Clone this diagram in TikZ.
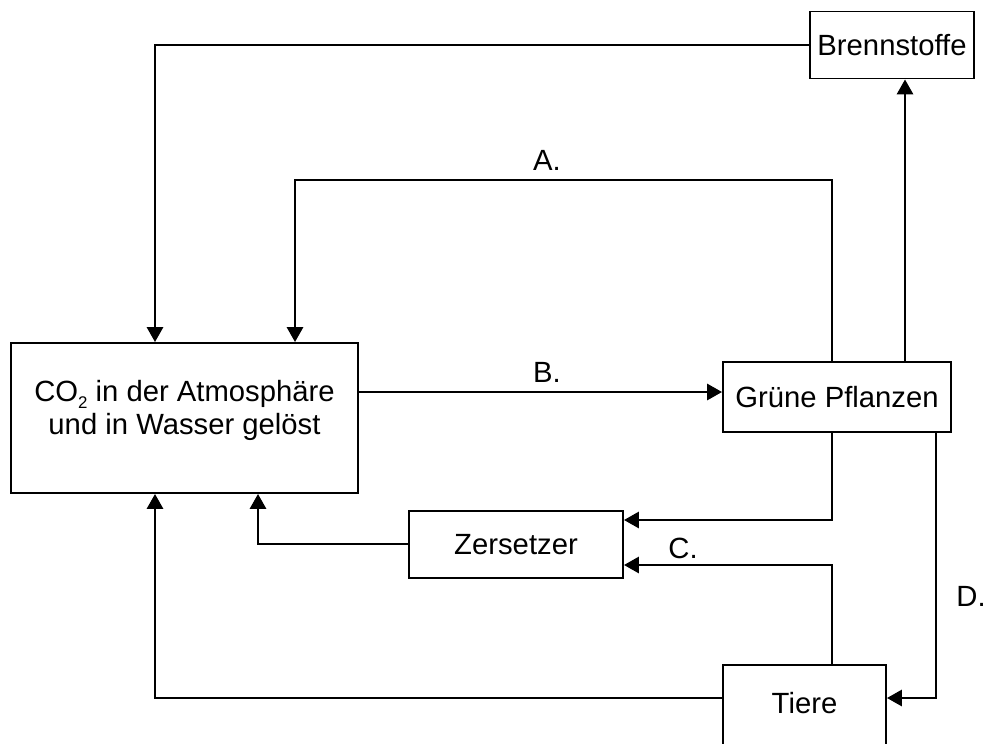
\documentclass[tikz,border=0pt]{standalone}
\usepackage{fontspec}
\setmainfont{Liberation Sans}
\usetikzlibrary{arrows.meta}

\tikzset{
    box/.style={draw, line width=1.4pt, inner sep=0pt, align=center,
        font=\fontsize{20.8}{22.5}\selectfont},
    flow/.style={line width=1.4pt, -{Triangle[length=10.5pt, width=11.5pt]}},
    tag/.style={font=\fontsize{20.8}{22.5}\selectfont},
}

\begin{document}
\begin{tikzpicture}[x=0.025cm, y=-0.025cm]
    \useasboundingbox (0, 0) rectangle (984, 743);

    % Boxes of the cycle.
    \node[box, minimum width=8.675cm, minimum height=3.75cm] (atmo) at (184.5, 418) {};
    \node[tag, align=center, font=\fontsize{20.8}{23.5}\selectfont, yshift=0.18cm] (atmotext) at (atmo.center)
        {CO\raisebox{-0.4ex}{\fontsize{12}{12}\selectfont 2} in der Atmosphäre\\und in Wasser gelöst};
    \node[box, minimum width=4.1cm, minimum height=1.675cm] (brenn) at (892, 45) {Brennstoffe};
    \node[box, minimum width=5.7cm, minimum height=1.75cm] (pflanzen) at (837, 397) {Grüne Pflanzen};
    \node[box, minimum width=5.35cm, minimum height=1.675cm] (zersetzer) at (516, 544.5) {Zersetzer};
    \node[box, minimum width=4.075cm, minimum height=2.5cm, anchor=north,
        text height=15pt, text depth=17.8pt] (tiere) at (804.5, 664) {Tiere};

    % Bend points of the connectors.
    \coordinate (xfuel) at (155, 0);
    \coordinate (xa) at (295, 0);
    \coordinate (xdec) at (258, 0);
    \coordinate (xmid) at (832, 0);
    \coordinate (xup) at (905, 0);
    \coordinate (xd) at (936, 0);
    \coordinate (ya) at (0, 180);
    \coordinate (yb) at (0, 392);
    \coordinate (yz) at (0, 544);
    \coordinate (yp) at (0, 520);
    \coordinate (yt) at (0, 565);
    \coordinate (yd) at (0, 698);

    % Connectors.
    \draw[flow] (brenn.west) -| (xfuel |- atmo.north);
    \draw[flow] (xmid |- pflanzen.north) -- (xmid |- ya) -| (xa |- atmo.north);
    \draw[flow] (atmo.east |- yb) -- (pflanzen.west |- yb);
    \draw[flow] (xup |- pflanzen.north) -- (xup |- brenn.south);
    \draw[flow] (xmid |- pflanzen.south) |- (zersetzer.east |- yp);
    \draw[flow] (xmid |- tiere.north) |- (zersetzer.east |- yt);
    \draw[flow] (xd |- pflanzen.south) |- (tiere.east |- yd);
    \draw[flow] (zersetzer.west |- yz) -| (xdec |- atmo.south);
    \draw[flow] (tiere.west |- yd) -| (xfuel |- atmo.south);

    % Labels of the paths.
    \node[tag] (la) at (547, 160) {A.};
    \node[tag] (lb) at (547, 372) {B.};
    \node[tag] (lc) at (683, 548) {C.};
    \node[tag] (ld) at (971, 596) {D.};
\end{tikzpicture}
\end{document}
